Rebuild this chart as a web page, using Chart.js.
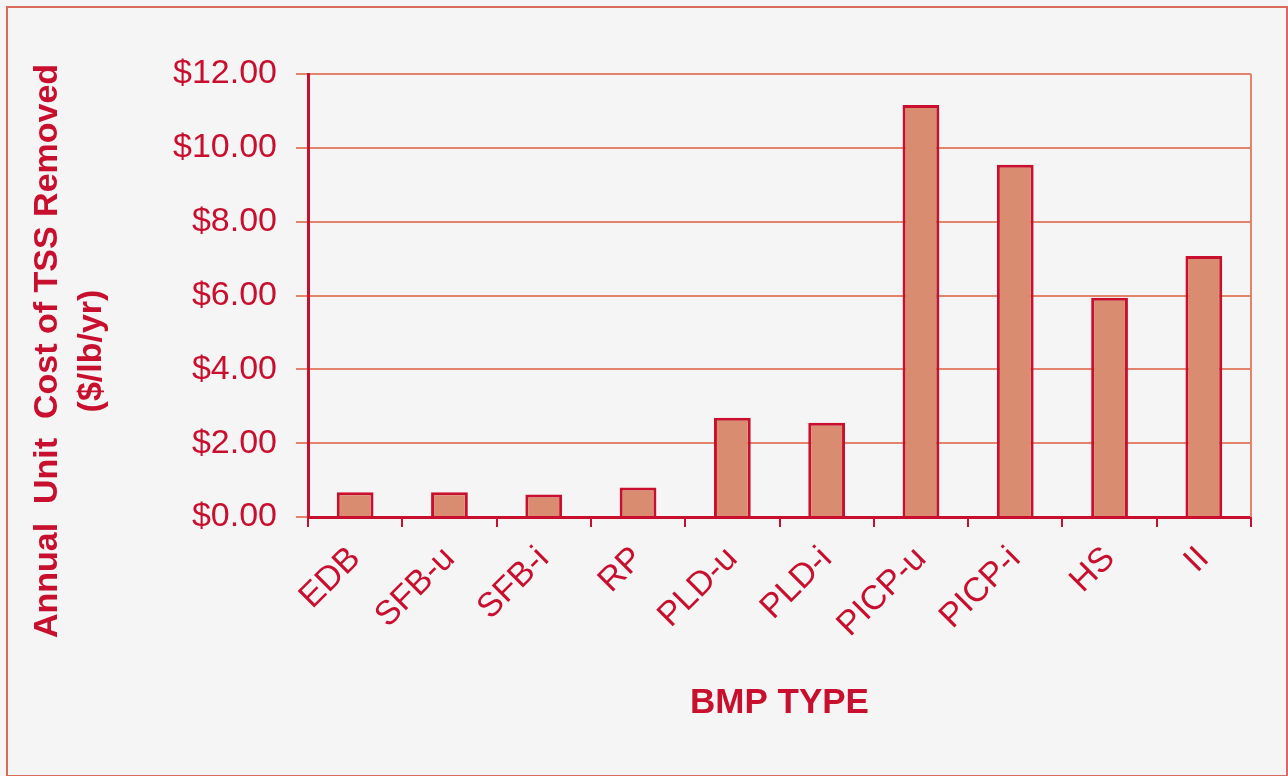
<!DOCTYPE html>
<html>
<head>
<meta charset="utf-8">
<script src="https://cdn.jsdelivr.net/npm/chart.js@4.4.0/dist/chart.umd.min.js"></script>
<style>
html,body{margin:0;padding:0;background:#f5f5f5;}
canvas{display:block;}
</style>
</head>
<body>
<canvas id="c" width="1288" height="776"></canvas>
<script>
const categories = ['EDB','SFB-u','SFB-i','RP','PLD-u','PLD-i','PICP-u','PICP-i','HS','II'];
const unitCost = [0.67, 0.67, 0.61, 0.80, 2.69, 2.55, 11.16, 9.54, 5.94, 7.07];
const yMin = 0, yMax = 12, yStep = 2;
const yTitleLines = ['Annual  Unit  Cost of TSS Removed', '($/lb/yr)'];
const xTitle = 'BMP TYPE';

const RED = '#c8102e';
const GRID = '#e2836b';
const FILL = '#d98c70';
const FRAME = '#da6b5c';
const FONT = '"Liberation Sans", Arial, sans-serif';

const decor = {
  id: 'decor',
  beforeDraw(chart) {
    const ctx = chart.ctx;
    ctx.save();
    ctx.fillStyle = '#f5f5f5';
    ctx.fillRect(0, 0, chart.width, chart.height);
    ctx.strokeStyle = FRAME;
    ctx.lineWidth = 2;
    ctx.strokeRect(7, 7, chart.width - 8, chart.height - 7);
    ctx.restore();
  },
  afterDraw(chart) {
    const ctx = chart.ctx;
    const a = chart.chartArea;
    ctx.save();
    ctx.strokeStyle = GRID;
    ctx.lineWidth = 2;
    ctx.beginPath();
    ctx.moveTo(a.right, a.top);
    ctx.lineTo(a.right, a.bottom);
    ctx.stroke();
    ctx.fillStyle = RED;
    ctx.font = 'bold 34px ' + FONT;
    ctx.textAlign = 'center';
    ctx.textBaseline = 'middle';
    const cy = 351;
    const xs = [48, 92];
    yTitleLines.forEach((t, i) => {
      ctx.save();
      ctx.translate(xs[i], cy);
      ctx.rotate(-Math.PI / 2);
      ctx.fillText(t, 0, 0);
      ctx.restore();
    });
    ctx.font = 'bold 35px ' + FONT;
    ctx.fillText(xTitle, (a.left + a.right) / 2, 703);
    ctx.restore();
  }
};

new Chart(document.getElementById('c'), {
  type: 'bar',
  data: {
    labels: categories,
    datasets: [{
      data: unitCost,
      backgroundColor: FILL,
      borderColor: RED,
      borderWidth: 3,
      borderSkipped: 'bottom',
      barPercentage: 0.39,
      categoryPercentage: 1.0
    }]
  },
  options: {
    responsive: false,
    animation: false,
    devicePixelRatio: 1,
    layout: { padding: { left: 140, top: 74, right: 37, bottom: 0 } },
    plugins: { legend: { display: false }, tooltip: { enabled: false } },
    scales: {
      y: {
        min: yMin, max: yMax,
        afterFit(s) { s.width = 168; },
        ticks: {
          stepSize: yStep,
          color: RED,
          font: { family: FONT, size: 34 },
          padding: 19,
          callback: v => '$' + Number(v).toFixed(2)
        },
        grid: { color: GRID, lineWidth: 2, tickLength: 12 },
        border: { color: RED, width: 3 }
      },
      x: {
        afterFit(s) { s.height = 259; },
        ticks: {
          color: RED,
          font: { family: FONT, size: 34 },
          maxRotation: 45, minRotation: 45,
          autoSkip: false,
          padding: 12
        },
        grid: { offset: true, drawOnChartArea: false, color: RED, lineWidth: 2, tickLength: 10 },
        border: { color: RED, width: 3 }
      }
    }
  },
  plugins: [decor]
});
</script>
</body>
</html>
